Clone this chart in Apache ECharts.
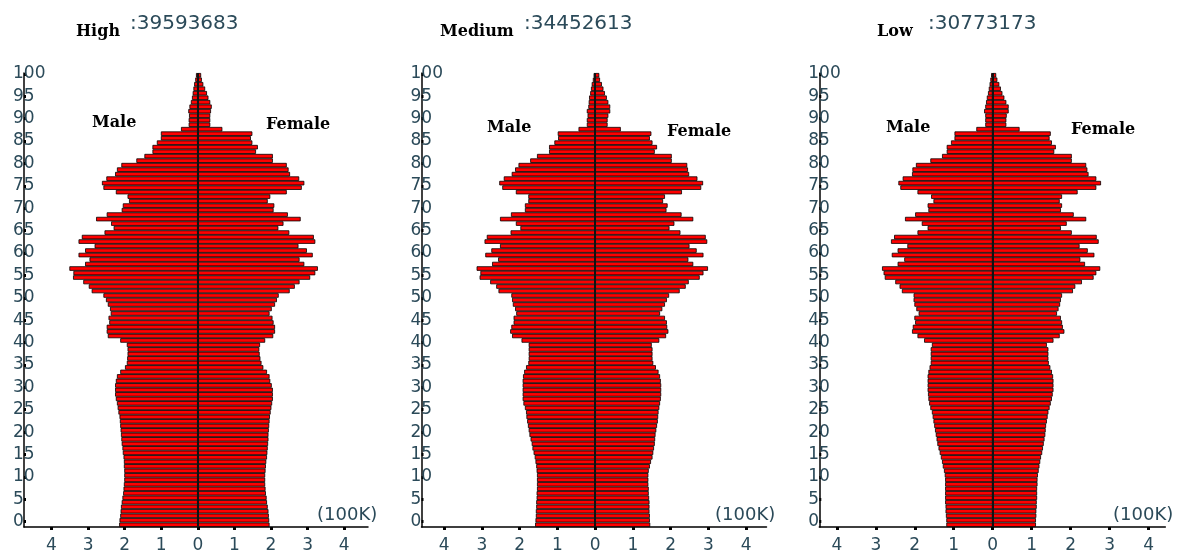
<!DOCTYPE html>
<html>
<head>
<meta charset="utf-8">
<script src="https://cdn.jsdelivr.net/npm/echarts@6/dist/echarts.min.js"></script>
<style>
html,body{margin:0;padding:0;background:#fff;}
#chart{width:1185px;height:550px;}
</style>
</head>
<body>
<div id="chart"></div>
<script>
// ---- data (units: 100K persons), index = age 0..100 ----
const ages = Array.from({length: 101}, (_, i) => String(i));
const yTickLabels = [0,5,10,15,20,25,30,35,40,45,50,55,60,65,70,75,80,85,90,95,100];
const xTickValues = [-4,-3,-2,-1,0,1,2,3,4];
const panelNames = ['High', 'Medium', 'Low'];
const panelTotals = ['39593683', '34452613', '30773173'];

const maleHigh = [
 2.15,2.14,2.12,2.11,2.10,2.08,2.06,2.04,2.03,2.02,
 2.01,2.01,2.01,2.02,2.02,2.03,2.05,2.06,2.08,2.09,
 2.10,2.11,2.12,2.13,2.14,2.17,2.19,2.21,2.24,2.26,
 2.26,2.26,2.24,2.21,2.12,1.99,1.94,1.93,1.92,1.92,
 1.94,2.12,2.46,2.49,2.49,2.42,2.44,2.38,2.40,2.46,
 2.51,2.58,2.90,2.98,3.13,3.41,3.40,3.51,3.08,2.96,
 3.26,3.08,2.82,3.26,3.17,2.55,2.30,2.37,2.78,2.49,
 2.08,2.05,1.88,1.92,2.24,2.58,2.62,2.50,2.26,2.21,
 2.09,1.68,1.46,1.24,1.24,1.12,1.01,1.01,0.46,0.25,
 0.25,0.24,0.26,0.23,0.19,0.16,0.14,0.12,0.10,0.07,
 0.05];
const femaleHigh = [
 1.96,1.95,1.94,1.93,1.91,1.89,1.88,1.86,1.85,1.84,
 1.84,1.84,1.85,1.86,1.87,1.89,1.90,1.91,1.92,1.93,
 1.93,1.94,1.95,1.96,1.97,1.99,2.01,2.03,2.05,2.05,
 2.05,2.02,1.98,1.96,1.89,1.79,1.74,1.71,1.69,1.68,
 1.70,1.84,2.06,2.11,2.11,2.07,2.04,1.96,2.02,2.11,
 2.16,2.21,2.51,2.65,2.78,3.07,3.21,3.28,2.91,2.78,
 3.14,2.98,2.75,3.21,3.17,2.50,2.20,2.34,2.81,2.46,
 2.07,2.09,1.91,1.98,2.43,2.84,2.91,2.77,2.52,2.48,
 2.43,2.05,2.05,1.59,1.64,1.49,1.45,1.49,0.67,0.34,
 0.34,0.34,0.36,0.38,0.34,0.29,0.25,0.20,0.15,0.11,
 0.09];
const maleMedium = [
 1.59,1.58,1.57,1.57,1.56,1.56,1.55,1.55,1.54,1.54,
 1.54,1.54,1.55,1.56,1.58,1.60,1.63,1.66,1.68,1.71,
 1.74,1.76,1.78,1.80,1.82,1.83,1.86,1.90,1.92,1.92,
 1.92,1.92,1.92,1.91,1.88,1.83,1.77,1.76,1.76,1.76,
 1.76,1.95,2.20,2.25,2.22,2.16,2.16,2.09,2.12,2.18,
 2.20,2.22,2.56,2.62,2.78,3.06,3.04,3.14,2.73,2.57,
 2.91,2.75,2.52,2.93,2.87,2.24,1.98,2.10,2.52,2.23,
 1.86,1.86,1.77,1.77,2.10,2.46,2.54,2.42,2.21,2.12,
 2.03,1.72,1.54,1.22,1.22,1.08,0.98,0.99,0.44,0.22,
 0.22,0.20,0.22,0.18,0.17,0.16,0.13,0.11,0.09,0.06,
 0.04];
const femaleMedium = [
 1.46,1.45,1.45,1.44,1.44,1.44,1.43,1.42,1.42,1.41,
 1.41,1.41,1.42,1.45,1.48,1.52,1.54,1.56,1.58,1.59,
 1.60,1.62,1.64,1.66,1.67,1.68,1.70,1.72,1.74,1.75,
 1.75,1.75,1.74,1.72,1.68,1.61,1.54,1.52,1.52,1.52,
 1.50,1.70,1.88,1.94,1.91,1.90,1.85,1.72,1.78,1.85,
 1.90,1.96,2.24,2.40,2.48,2.77,2.87,2.99,2.60,2.47,
 2.87,2.69,2.50,2.97,2.93,2.26,1.97,2.10,2.60,2.29,
 1.89,1.92,1.80,1.85,2.30,2.81,2.86,2.71,2.49,2.46,
 2.44,2.03,2.03,1.58,1.64,1.52,1.45,1.49,0.68,0.33,
 0.33,0.35,0.40,0.40,0.35,0.31,0.26,0.22,0.18,0.13,
 0.11];
const maleLow = [
 1.19,1.19,1.20,1.21,1.21,1.22,1.22,1.22,1.22,1.22,
 1.22,1.23,1.25,1.28,1.30,1.33,1.36,1.39,1.42,1.44,
 1.46,1.48,1.50,1.52,1.54,1.56,1.60,1.63,1.65,1.66,
 1.67,1.67,1.67,1.67,1.65,1.62,1.59,1.59,1.59,1.59,
 1.56,1.76,1.93,2.07,2.05,1.99,2.01,1.90,1.96,2.01,
 2.03,2.03,2.33,2.39,2.50,2.77,2.80,2.84,2.44,2.27,
 2.59,2.44,2.19,2.61,2.53,1.93,1.67,1.82,2.25,1.99,
 1.65,1.67,1.52,1.58,1.93,2.37,2.42,2.31,2.07,2.06,
 1.97,1.60,1.30,1.18,1.18,1.07,0.98,0.98,0.42,0.19,
 0.19,0.19,0.22,0.19,0.17,0.15,0.12,0.10,0.08,0.06,
 0.04];
const femaleLow = [
 1.11,1.11,1.12,1.12,1.13,1.13,1.14,1.14,1.14,1.15,
 1.15,1.16,1.18,1.20,1.22,1.24,1.27,1.29,1.31,1.33,
 1.35,1.36,1.37,1.39,1.41,1.43,1.46,1.49,1.52,1.54,
 1.56,1.56,1.56,1.55,1.52,1.48,1.44,1.43,1.43,1.43,
 1.39,1.56,1.72,1.84,1.80,1.78,1.75,1.65,1.69,1.73,
 1.75,1.78,2.06,2.12,2.29,2.59,2.66,2.76,2.37,2.25,
 2.61,2.44,2.23,2.72,2.67,2.03,1.75,1.90,2.40,2.08,
 1.75,1.78,1.72,1.78,2.18,2.66,2.78,2.66,2.46,2.43,
 2.40,2.03,2.03,1.58,1.62,1.52,1.46,1.49,0.69,0.35,
 0.35,0.36,0.41,0.41,0.35,0.30,0.25,0.21,0.17,0.12,
 0.09];

const males = [maleHigh, maleMedium, maleLow];
const females = [femaleHigh, femaleMedium, femaleLow];

// ---- layout ----
const TXT = '#2b4a59';
const panels = [
  {left: 24,    width: 344, min: -4.75, max: 4.65, title: [76, 130], male: [92, 124], female: [266, 126], unit: [317, 517]},
  {left: 421.5, width: 345, min: -4.6,  max: 4.54, title: [440, 524], male: [487, 129], female: [667, 133], unit: [715, 517]},
  {left: 819.3, width: 346, min: -4.45, max: 4.43, title: [877, 928], male: [886, 129], female: [1071, 131], unit: [1113, 517]}
];
const TOP = 73, HEIGHT = 454;

const grid = [], xAxis = [], yAxis = [], series = [], graphic = [];
panels.forEach((p, i) => {
  grid.push({left: p.left, top: TOP, width: p.width, height: HEIGHT, containLabel: false, outerBoundsMode: 'none'});
  xAxis.push({
    type: 'value', gridIndex: i, min: p.min, max: p.max,
    axisLine: {show: true, onZero: false, lineStyle: {color: '#000', width: 1.5}},
    axisTick: {show: true, customValues: xTickValues, length: 3, inside: false, lineStyle: {color: '#000', width: 3}},
    axisLabel: {show: true, customValues: xTickValues, formatter: v => String(Math.abs(v)),
      color: TXT, fontSize: 17, fontFamily: 'DejaVu Sans', margin: 10},
    splitLine: {show: false}
  });
  // hidden category axis for the bars
  yAxis.push({
    type: 'category', gridIndex: i, data: ages,
    axisLine: {show: false}, axisTick: {show: false}, axisLabel: {show: false}, splitLine: {show: false}
  });
  // visible age scale
  yAxis.push({
    type: 'value', gridIndex: i, min: -1.2, max: 100.2, position: 'left',
    axisLine: {show: true, onZero: false, lineStyle: {color: '#000', width: 1.5}},
    axisTick: {show: true, customValues: yTickLabels, length: 2, inside: true, lineStyle: {color: '#000', width: 3}},
    axisLabel: {show: true, customValues: yTickLabels, align: 'left', margin: 11, color: TXT, fontSize: 17,
      fontFamily: 'DejaVu Sans', formatter: v => String(v)},
    splitLine: {show: false}
  });
  const common = {
    type: 'bar', xAxisIndex: i, yAxisIndex: i * 2, barGap: '-100%', barCategoryGap: '0%',
    itemStyle: {color: '#ff0000', borderColor: '#000', borderWidth: 0.8},
    emphasis: {disabled: true}, animation: false, silent: true
  };
  series.push(Object.assign({}, common, {name: 'Male ' + panelNames[i], data: males[i].map(v => -v)}));
  series.push(Object.assign({}, common, {name: 'Female ' + panelNames[i], data: females[i],
    markLine: {silent: true, symbol: 'none', label: {show: false},
      lineStyle: {color: '#111', width: 2, type: 'solid'}, data: [{xAxis: 0}]}}));

  graphic.push({type: 'text', left: p.title[0], top: 24,
    style: {text: panelNames[i], font: 'bold 16px "DejaVu Serif"', fill: '#000'}});
  graphic.push({type: 'text', left: p.title[1], top: 14,
    style: {text: ':' + panelTotals[i], font: '20px "DejaVu Sans"', fill: TXT}});
  graphic.push({type: 'text', left: p.male[0], top: p.male[1] - 9,
    style: {text: 'Male', font: 'bold 16px "DejaVu Serif"', fill: '#000'}});
  graphic.push({type: 'text', left: p.female[0], top: p.female[1] - 9,
    style: {text: 'Female', font: 'bold 16px "DejaVu Serif"', fill: '#000'}});
  graphic.push({type: 'text', left: p.unit[0], top: p.unit[1] - 11,
    style: {text: '(100K)', font: '18px "DejaVu Sans"', fill: TXT}});
});

const chart = echarts.init(document.getElementById('chart'), null, {renderer: 'canvas'});
chart.setOption({
  animation: false,
  backgroundColor: '#ffffff',
  grid, xAxis, yAxis, series, graphic
});
</script>
</body>
</html>
